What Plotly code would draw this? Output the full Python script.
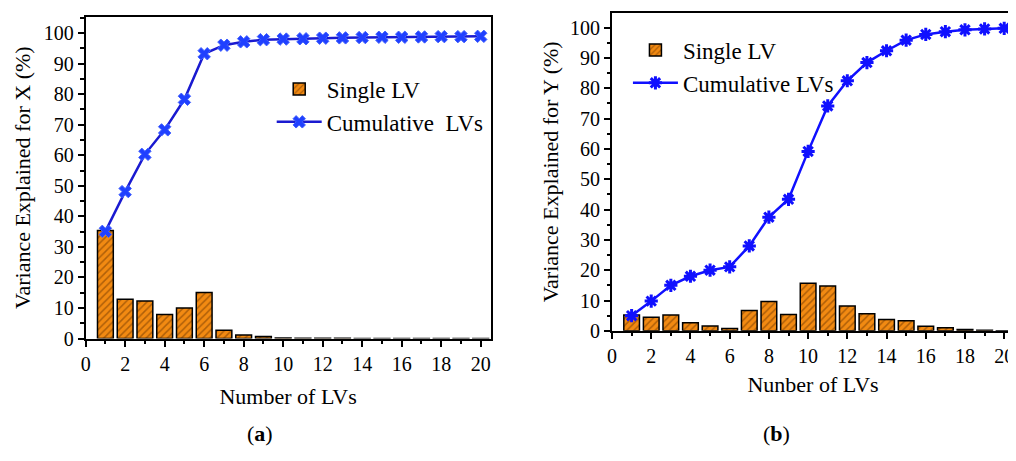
import plotly.graph_objects as go

lvs = list(range(1, 21))
single_x = [35.4, 12.9, 12.3, 7.9, 10.0, 15.1, 2.7, 1.2, 0.7, 0.2, 0.1, 0.1, 0.1, 0.05, 0.05, 0.05, 0.05, 0.05, 0.05, 0.05]
cum_x = [35.1, 48.1, 60.3, 68.3, 78.3, 93.2, 96.0, 97.1, 97.8, 98.0, 98.1, 98.3, 98.4, 98.5, 98.6, 98.6, 98.7, 98.8, 98.8, 98.9]
single_y = [5.2, 4.5, 5.2, 2.7, 1.6, 0.8, 6.7, 9.7, 5.4, 15.7, 14.8, 8.2, 5.6, 3.7, 3.3, 1.5, 1.0, 0.4, 0.15, 0.05]
cum_y = [5.0, 9.8, 15.0, 18.0, 20.0, 21.1, 28.0, 37.5, 43.4, 59.2, 74.2, 82.5, 88.5, 92.4, 95.9, 97.8, 98.7, 99.3, 99.6, 99.8]

FONT = "Liberation Serif"
ORANGE = "#F28A12"
HATCH = "#6a3300"

# the page body adds an 8px margin around the figure
W, H = 1008, 445
OX, OY = 8, 8
def fx(px):
    return (px - OX) / W
def fy(py):
    return (H - (py - OY)) / H

fig = go.Figure()

def bar(x, y, xa, ya, leg):
    return go.Bar(x=x, y=y, xaxis=xa, yaxis=ya, name="Single LV", width=0.8,
                  marker=dict(color=ORANGE, line=dict(color="black", width=1.5),
                              pattern=dict(shape="/", fgcolor=HATCH, bgcolor=ORANGE, size=5, solidity=0.3)),
                  legend=leg)

fig.add_trace(bar(lvs, single_x, "x", "y", "legend"))
fig.add_trace(go.Scatter(x=lvs, y=cum_x, xaxis="x", yaxis="y", name="Cumulative  LVs", mode="lines+markers",
                         line=dict(color="#1a1ad0", width=2.5),
                         marker=dict(symbol="x", size=11, color="#2040ff", line=dict(color="#4060ff", width=1)),
                         legend="legend"))
fig.add_trace(bar(lvs, single_y, "x2", "y2", "legend2"))
fig.add_trace(go.Scatter(x=lvs, y=cum_y, xaxis="x2", yaxis="y2", name="Cumulative LVs", mode="lines+markers",
                         line=dict(color="#1010ff", width=2.5),
                         marker=dict(symbol="asterisk-open", size=11, color="#1010ff", line=dict(color="#1010ff", width=3)),
                         legend="legend2"))

ax_common = dict(showline=True, linewidth=2, linecolor="black", mirror=True, ticks="outside",
                 ticklen=6, tickwidth=2, tickcolor="black", showgrid=False, zeroline=False,
                 ticklabeloverflow="allow",
                 tickfont=dict(family=FONT, size=20, color="black"))
xminor = dict(dtick=1, ticks="outside", ticklen=3.5, tickwidth=1.5, tickcolor="black")
yminor = dict(dtick=5, ticks="outside", ticklen=3.5, tickwidth=1.5, tickcolor="black")

fig.update_layout(
    width=W, height=H, margin=dict(l=0, r=0, t=0, b=0),
    paper_bgcolor="white", plot_bgcolor="white", bargap=0.2,
    font=dict(family=FONT, color="black"),
    xaxis=dict(domain=[fx(81), fx(488)], range=[0, 20.5], tickvals=list(range(0, 21, 2)), minor=xminor,
               title=dict(text="Number of LVs", font=dict(size=22), standoff=15), anchor="y", **ax_common),
    yaxis=dict(domain=[fy(347), fy(17)], range=[0, 105.3], tickvals=list(range(0, 101, 10)), minor=yminor,
               title=dict(text="Variance Explained for X (%)", font=dict(size=22), standoff=7), anchor="x", **ax_common),
    xaxis2=dict(domain=[fx(610), fx(1014)], range=[0, 20.5], tickvals=list(range(0, 21, 2)), minor=xminor,
                title=dict(text="Nunber of LVs", font=dict(size=22), standoff=11), anchor="y2", **ax_common),
    yaxis2=dict(domain=[fy(339), fy(13)], range=[0, 104.9], tickvals=list(range(0, 101, 10)), minor=yminor,
                title=dict(text="Variance Explained for Y (%)", font=dict(size=22), standoff=5), anchor="x2", **ax_common),
    legend=dict(x=fx(268), y=fy(69), xanchor="left", yanchor="top", bgcolor="rgba(0,0,0,0)",
                font=dict(family=FONT, size=23), itemwidth=45, tracegroupgap=0),
    legend2=dict(x=fx(626), y=fy(29), xanchor="left", yanchor="top", bgcolor="rgba(0,0,0,0)",
                 font=dict(family=FONT, size=23), itemwidth=45, tracegroupgap=0),
    annotations=[
        dict(text="(<b>a</b>)", x=fx(256), y=fy(444), xref="paper", yref="paper", showarrow=False,
             xanchor="center", yanchor="middle", font=dict(family=FONT, size=22)),
        dict(text="(<b>b</b>)", x=fx(775), y=fy(444), xref="paper", yref="paper", showarrow=False,
             xanchor="center", yanchor="middle", font=dict(family=FONT, size=22)),
    ],
)

fig.write_html("out.html")
